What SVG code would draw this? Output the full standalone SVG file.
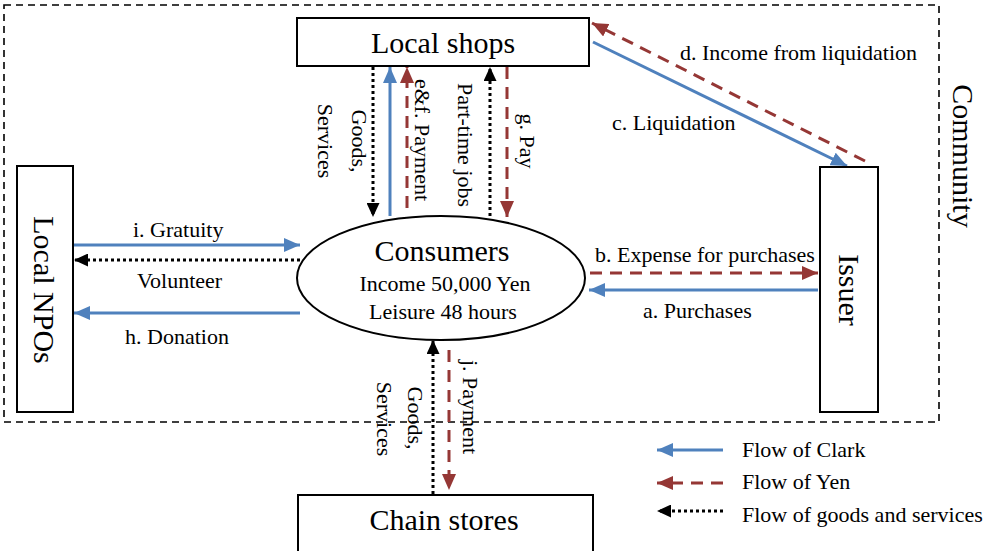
<svg xmlns="http://www.w3.org/2000/svg" width="990" height="551" viewBox="0 0 990 551">
<style>
text{font-family:"Liberation Serif","Times New Roman",serif;fill:#000}
.big{font-size:30px}
.lbl{font-size:22px}
.box{fill:#fff;stroke:#000;stroke-width:2}
.clark{stroke:#4F81BD;stroke-width:3;fill:none;marker-end:url(#ab)}
.yen{stroke:#953735;stroke-width:3;fill:none;stroke-dasharray:12 8;marker-end:url(#ar)}
.goods{stroke:#000;stroke-width:3;fill:none;stroke-dasharray:3 3;marker-end:url(#ak)}
</style>
<defs>
<marker id="ab" markerUnits="userSpaceOnUse" markerWidth="16" markerHeight="14" refX="16" refY="7" orient="auto"><path d="M0,0 L16,7 L0,14 z" fill="#4F81BD"/></marker>
<marker id="ar" markerUnits="userSpaceOnUse" markerWidth="16" markerHeight="14" refX="16" refY="7" orient="auto"><path d="M0,0 L16,7 L0,14 z" fill="#953735"/></marker>
<marker id="ak" markerUnits="userSpaceOnUse" markerWidth="14" markerHeight="13" refX="14" refY="6.5" orient="auto"><path d="M0,0 L14,6.5 L0,13 z" fill="#000"/></marker>
</defs>
<rect id="community" x="4" y="5" width="935" height="417" fill="none" stroke="#000" stroke-width="1.6" stroke-dasharray="7 5"/>
<text class="big" transform="translate(953,156) rotate(90)" text-anchor="middle">Community</text>
<g id="connectors">
<line class="goods" x1="373" y1="67" x2="373" y2="217"/>
<line class="clark" x1="390" y1="216" x2="390" y2="67"/>
<line class="yen" x1="407" y1="208" x2="407" y2="67"/>
<line class="goods" x1="490" y1="216" x2="490" y2="67"/>
<line class="yen" x1="507" y1="67" x2="507" y2="217"/>
<line class="goods" x1="433" y1="494" x2="433" y2="340"/>
<line class="yen" x1="449" y1="350" x2="449" y2="490"/>
<line class="yen" x1="865" y1="161" x2="592" y2="23"/>
<line class="clark" x1="593" y1="42" x2="847" y2="166"/>
<line class="yen" x1="590" y1="273" x2="818" y2="273"/>
<line class="clark" x1="818" y1="290" x2="589" y2="290"/>
<line class="clark" x1="73" y1="245" x2="300" y2="245"/>
<line class="goods" x1="300" y1="260" x2="74" y2="260"/>
<line class="clark" x1="300" y1="313" x2="74" y2="313"/>
<text class="lbl" transform="translate(352,141) rotate(90)" text-anchor="middle">Goods,</text>
<text class="lbl" transform="translate(318,141) rotate(90)" text-anchor="middle">Services</text>
<text class="lbl" transform="translate(415,140) rotate(90)" text-anchor="middle">e&amp;f. Payment</text>
<text class="lbl" transform="translate(458,145) rotate(90)" text-anchor="middle">Part-time jobs</text>
<text class="lbl" transform="translate(520,141) rotate(90)" text-anchor="middle">g. Pay</text>
<text class="lbl" transform="translate(408,418) rotate(90)" text-anchor="middle">Goods,</text>
<text class="lbl" transform="translate(377,419) rotate(90)" text-anchor="middle">Services</text>
<text class="lbl" transform="translate(463,407) rotate(90)" text-anchor="middle">j. Payment</text>
<text class="lbl" x="680" y="60">d. Income from liquidation</text>
<text class="lbl" x="612" y="130">c. Liquidation</text>
<text class="lbl" x="595" y="262">b. Expense for purchases</text>
<text class="lbl" x="643" y="318">a. Purchases</text>
<text class="lbl" x="133" y="237">i. Gratuity</text>
<text class="lbl" x="137" y="288">Volunteer</text>
<text class="lbl" x="125" y="344">h. Donation</text>
</g>
<g id="local-shops">
<rect class="box" x="297" y="18" width="292" height="48"/>
<text class="big" x="443" y="53" text-anchor="middle">Local shops</text>
</g>
<g id="issuer">
<rect class="box" x="820" y="167" width="58" height="245"/>
<text class="big" transform="translate(839,290) rotate(90)" text-anchor="middle">Issuer</text>
</g>
<g id="local-npos">
<rect class="box" x="17" y="166" width="56" height="246"/>
<text class="big" transform="translate(34,290) rotate(90)" text-anchor="middle">Local NPOs</text>
</g>
<g id="consumers">
<ellipse cx="441" cy="278" rx="144" ry="62" fill="#fff" stroke="#000" stroke-width="2"/>
<text class="big" x="442" y="261" text-anchor="middle">Consumers</text>
<text class="lbl" x="445" y="291" text-anchor="middle">Income 50,000 Yen</text>
<text class="lbl" x="443" y="319" text-anchor="middle">Leisure 48 hours</text>
</g>
<g id="chain-stores">
<rect class="box" x="298" y="495" width="295" height="60"/>
<text class="big" x="444" y="530" text-anchor="middle">Chain stores</text>
</g>
<g id="legend">
<line class="clark" x1="723" y1="450" x2="657" y2="450"/>
<line class="yen" x1="723" y1="483" x2="657" y2="483"/>
<line class="goods" x1="723" y1="511" x2="657" y2="511"/>
<text class="lbl" x="742" y="457">Flow of Clark</text>
<text class="lbl" x="742" y="489">Flow of Yen</text>
<text class="lbl" x="742" y="522">Flow of goods and services</text>
</g>
</svg>
